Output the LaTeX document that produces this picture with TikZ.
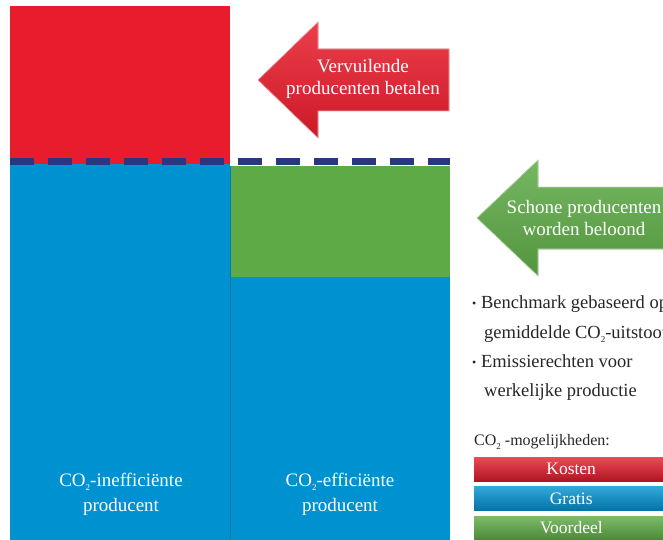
\documentclass[tikz,border=0pt]{standalone}
\usepackage{fontspec}
\setmainfont{Liberation Serif}
\usetikzlibrary{positioning}
\definecolor{kostred}{RGB}{232,28,44}
\definecolor{gratisblue}{RGB}{0,145,208}
\definecolor{voordeelgreen}{RGB}{94,170,70}
\definecolor{benchnavy}{RGB}{40,55,130}
\newcommand{\cotwo}{CO\raisebox{-.55ex}{\fontsize{9}{9}\selectfont 2}}
\newcommand{\infodot}{\raisebox{.1ex}{\fontsize{12}{12}\selectfont\textbullet}\ }

\begin{document}
\begin{tikzpicture}[x=1pt,y=-1pt,node distance=5pt,
                every node/.style={inner sep=0pt, align=center},
                label/.style={text=white, font=\fontsize{19}{22}\selectfont},
                info/.style={text=black!85, anchor=base west, font=\fontsize{18.5}{22}\selectfont},
                legend/.style={text=white, minimum width=194pt, minimum height=24pt, font=\fontsize{17.5}{20}\selectfont},
                arrowshape/.style={draw=white!60!#1, line width=0.6pt, top color=white!15!#1, bottom color=black!12!#1}
                ]
                \clip (0,0) rectangle (663,540);
                % blocks
                \fill[kostred] (10,6) rectangle (230,164);
                \fill[gratisblue] (10,164) rectangle (230,540);
                \fill[voordeelgreen] (230,166) rectangle (450,277);
                \fill[gratisblue] (230,277) rectangle (450,540);
                \draw[black!15!gratisblue, line width=1pt] (230,166) -- (230,540);
                \draw[benchnavy, line width=7pt, dash pattern=on 24pt off 14pt] (10,162) -- (450,162);
                % arrows
                \fill[arrowshape=kostred] (258,80) -- (318,22) -- (318,49) -- (449,49) -- (449,111)
                        -- (318,111) -- (318,138) -- cycle;
                \fill[arrowshape=voordeelgreen] (477,218) -- (538,160) -- (538,187) -- (680,187) -- (680,249)
                        -- (538,249) -- (538,276) -- cycle;
                \node[label] (polluters) at (363,79) {Vervuilende\\producenten betalen};
                \node[label] (clean) at (584,218) {Schone producenten\\worden beloond};
                % bar labels
                \node[label, font=\fontsize{19}{25}\selectfont] (ineff) at (121,494) {\cotwo-inefficiënte\\producent};
                \node[label, font=\fontsize{19}{25}\selectfont] (eff) at (340,494) {\cotwo-efficiënte\\producent};
                % explanation
                \node[info] (bench) at (472,308) {\infodot Benchmark gebaseerd op};
                \node[info] (benchb) at (484,338) {gemiddelde \cotwo-uitstoot};
                \node[info] (rights) at (472,367) {\infodot Emissierechten voor};
                \node[info] (rightsb) at (484,396) {werkelijke productie};
                % legend
                \node[info, font=\fontsize{16}{18}\selectfont] (legtitle) at (474,445) {\cotwo\ -mogelijkheden:};
                \node[legend, anchor=north west, top color=white!20!kostred, bottom color=black!25!kostred] (kosten) at (474,457) {Kosten};
                \node[legend, below=5pt of kosten, top color=white!20!gratisblue, bottom color=black!20!gratisblue] (gratis) {Gratis};
                \node[legend, below=5pt of gratis, top color=white!20!voordeelgreen, bottom color=black!20!voordeelgreen] (voordeel) {Voordeel};
        \end{tikzpicture}
\end{document}
